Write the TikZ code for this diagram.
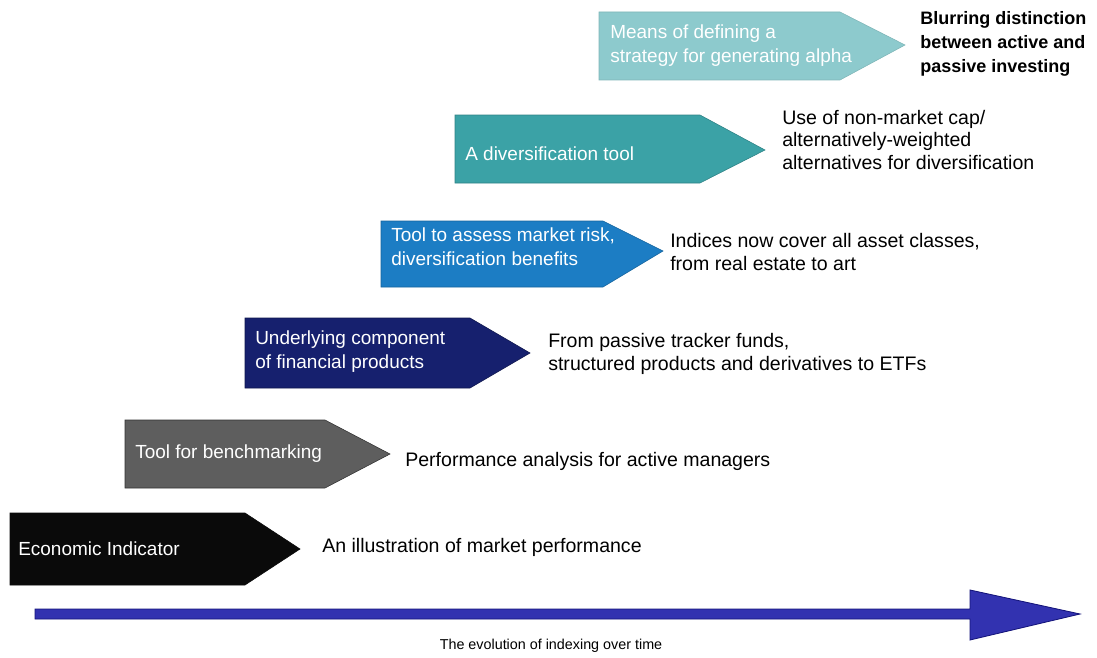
\documentclass[tikz,border=0pt]{standalone}
\usepackage{fontspec}
\setmainfont{Liberation Sans}
\definecolor{econblack}{HTML}{0A0A0A}
\definecolor{benchgray}{HTML}{5E5E5E}
\definecolor{compnavy}{HTML}{16206E}
\definecolor{riskblue}{HTML}{1C7DC4}
\definecolor{divteal}{HTML}{3BA2A6}
\definecolor{alphateal}{HTML}{8DCACD}
\definecolor{timeblue}{HTML}{3232B0}
\definecolor{timeedge}{HTML}{14147A}
\tikzset{
  boxtext/.style={anchor=west, text=white, font=\fontsize{13.5}{17}\selectfont, align=left, inner sep=0pt},
  desctext/.style={anchor=west, text=black, font=\fontsize{13.9}{16}\selectfont, align=left, inner sep=0pt}
}
\begin{document}
\begin{tikzpicture}[x=0.025cm, y=-0.025cm]
		%%%%% START %%%%%
		\useasboundingbox (0, 0) rectangle (1097, 657);
		
		% stage 1
		\draw[fill=econblack, draw=econblack] (10, 513) -- (245, 513) -- (300, 549) -- (245, 585) -- (10, 585) -- cycle;
		\node[boxtext] (econ) at (18, 549) {Economic Indicator};
		\node[desctext] (econdesc) at (322, 547) {An illustration of market performance};
		
		% stage 2
		\draw[fill=benchgray, draw=black!80] (125, 420) -- (325, 420) -- (390, 454) -- (325, 488) -- (125, 488) -- cycle;
		\node[boxtext] (bench) at (135, 454) {Tool for benchmarking};
		\node[desctext] (benchdesc) at (405, 461) {Performance analysis for active managers};
		
		% stage 3
		\draw[fill=compnavy, draw=compnavy!70!black] (245, 318) -- (470, 318) -- (530, 353) -- (470, 388) -- (245, 388) -- cycle;
		\node[boxtext] (comp) at (255, 352) {Underlying component\\of financial products};
		\node[desctext] (compdesc) at (548, 354) {From passive tracker funds,\\structured products and derivatives to ETFs};
		
		% stage 4
		\draw[fill=riskblue, draw=riskblue!80!black] (381, 221) -- (603, 221) -- (663, 251) -- (603, 287) -- (381, 287) -- cycle;
		\node[boxtext] (risk) at (391, 247) {Tool to assess market risk,\\diversification benefits};
		\node[desctext] (riskdesc) at (670, 252) {Indices now cover all asset classes,\\from real estate to art};
		
		% stage 5
		\draw[fill=divteal, draw=divteal!80!black] (455, 115) -- (700, 115) -- (765, 150) -- (700, 183) -- (455, 183) -- cycle;
		\node[boxtext] (div) at (465, 154) {A diversification tool};
		\node[desctext] (divdesc) at (782, 140) {Use of non-market cap/\\alternatively-weighted\\alternatives for diversification};
		
		% stage 6
		\draw[fill=alphateal, draw=alphateal!90!black] (599, 12) -- (840, 12) -- (905, 45) -- (840, 80) -- (599, 80) -- cycle;
		\node[boxtext] (alpha) at (610, 46) {Means of defining a\\strategy for generating alpha};
		\node[desctext, font=\fontsize{12.8}{17}\selectfont\bfseries] (alphadesc) at (920, 44) {Blurring distinction\\between active and\\passive investing};
		
		% time axis
		\draw[fill=timeblue, draw=timeedge, line width=0.6pt] (35, 609) -- (970, 609) -- (970, 590) -- (1080, 614) -- (970, 640) -- (970, 619) -- (35, 619) -- cycle;
		\node[desctext, anchor=center, font=\fontsize{10.2}{12}\selectfont] (timelabel) at (551, 646) {The evolution of indexing over time};
		
		%%%%% END %%%%%
	\end{tikzpicture}
\end{document}
